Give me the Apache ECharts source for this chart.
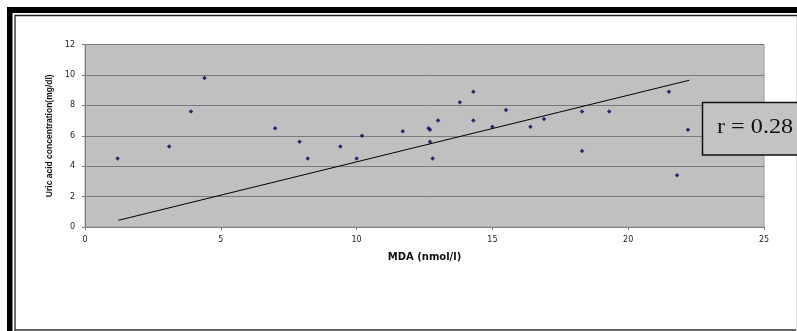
<!DOCTYPE html>
<html>
<head>
<meta charset="utf-8">
<script src="https://cdn.jsdelivr.net/npm/echarts@6/dist/echarts.min.js"></script>
<style>html,body{margin:0;padding:0;background:#fff}#c{width:797px;height:331px}</style>
</head>
<body>
<div id="c"></div>
<script>
// MDA (nmol/l) values
var mdaValues = [1.2, 3.1, 3.9, 4.4, 7.0, 7.9, 8.2, 9.4, 10.0, 10.2, 11.7, 12.65, 12.7, 12.7, 12.8, 13.0, 13.8, 14.3, 14.3, 15.0, 15.5, 16.4, 16.9, 18.3, 18.3, 19.3, 21.5, 21.8, 22.2];
// Uric acid concentration (mg/dl) values
var uricValues = [4.5, 5.3, 7.6, 9.8, 6.5, 5.6, 4.5, 5.3, 4.5, 6.0, 6.3, 6.5, 6.4, 5.6, 4.5, 7.0, 8.2, 8.9, 7.0, 6.6, 7.7, 6.6, 7.1, 7.6, 5.0, 7.6, 8.9, 3.4, 6.4];
// trend line end points, as drawn in the figure
var trendX = [1.23, 22.25];
var trendY = [0.44, 9.65];
var xTicks = [0, 5, 10, 15, 20, 25];
var yTicks = [0, 2, 4, 6, 8, 10, 12];
var rLabel = 'r = 0.28';
var xTitle = 'MDA (nmol/l)';
var yTitle = 'Uric acid concentration(mg/dl)';

var points = mdaValues.map(function (x, i) { return [x, uricValues[i]]; });
var trend = trendX.map(function (x, i) { return [x, trendY[i]]; });

var chart = echarts.init(document.getElementById('c'), null, {renderer: 'canvas'});
chart.setOption({
  backgroundColor: '#ffffff',
  animation: false,
  grid: {left: 85, top: 44.5, width: 679, height: 182.5, show: true, backgroundColor: '#c0c0c0', borderColor: '#9a9a9a', borderWidth: 1},
  xAxis: {
    type: 'value', min: xTicks[0], max: xTicks[xTicks.length - 1], interval: 5,
    name: xTitle, nameLocation: 'middle', nameGap: 25,
    nameTextStyle: {fontFamily: 'DejaVu Sans', fontWeight: 'bold', fontSize: 10, color: '#111'},
    axisLine: {show: true, onZero: false, lineStyle: {color: '#808080', width: 1}},
    axisTick: {show: true, inside: false, length: 3, lineStyle: {color: '#808080'}},
    axisLabel: {fontFamily: 'DejaVu Sans', fontSize: 8, color: '#222', margin: 9},
    splitLine: {show: false}
  },
  yAxis: {
    type: 'value', min: yTicks[0], max: yTicks[yTicks.length - 1], interval: 2,
    name: yTitle, nameLocation: 'middle', nameGap: 31, nameRotate: 90,
    nameTextStyle: {fontFamily: 'Liberation Sans', fontWeight: 'bold', fontSize: 8.5, color: '#111'},
    axisLine: {show: true, lineStyle: {color: '#808080', width: 1}},
    axisTick: {show: true, inside: false, length: 3, lineStyle: {color: '#808080'}},
    axisLabel: {fontFamily: 'DejaVu Sans', fontSize: 8, color: '#222', margin: 10},
    splitLine: {show: true, lineStyle: {color: '#7a7a7a', width: 1}}
  },
  series: [
    {
      type: 'line', data: trend, showSymbol: false, symbol: 'none',
      lineStyle: {color: '#000', width: 1}, silent: true, z: 2
    },
    {
      type: 'scatter', data: points, symbol: 'diamond', symbolSize: 4.5,
      itemStyle: {color: '#00005e'}, z: 3
    }
  ],
  graphic: [
    // outer thick frame
    {type: 'rect', shape: {x: 7, y: 7, width: 790, height: 6}, style: {fill: '#000'}, silent: true},
    {type: 'rect', shape: {x: 7, y: 7, width: 5.5, height: 324}, style: {fill: '#000'}, silent: true},
    // inner thin frame
    {type: 'line', shape: {x1: 15, y1: 15.5, x2: 797, y2: 15.5}, style: {stroke: '#222', lineWidth: 1.3}, silent: true},
    {type: 'line', shape: {x1: 15, y1: 15, x2: 15, y2: 331}, style: {stroke: '#222', lineWidth: 1.3}, silent: true},
    {type: 'line', shape: {x1: 15, y1: 330, x2: 797, y2: 330}, style: {stroke: '#333', lineWidth: 1.3}, silent: true},
    {type: 'line', shape: {x1: 796.5, y1: 17, x2: 796.5, y2: 331}, style: {stroke: '#e0e0e0', lineWidth: 1}, silent: true},
    // r label box
    {type: 'rect', shape: {x: 702.5, y: 102.5, width: 100, height: 52.5}, style: {fill: '#c3c3c3', stroke: '#111', lineWidth: 1.5}, z: 10, silent: true},
    {type: 'group', x: 717, y: 127.5, scaleX: 1.1, z: 11, children: [
      {type: 'text', style: {text: rLabel, x: 0, y: 0, fontFamily: 'Liberation Serif', fontSize: 22, fill: '#111', verticalAlign: 'middle', align: 'left'}, z: 11, silent: true}
    ]}
  ]
});
</script>
</body>
</html>
